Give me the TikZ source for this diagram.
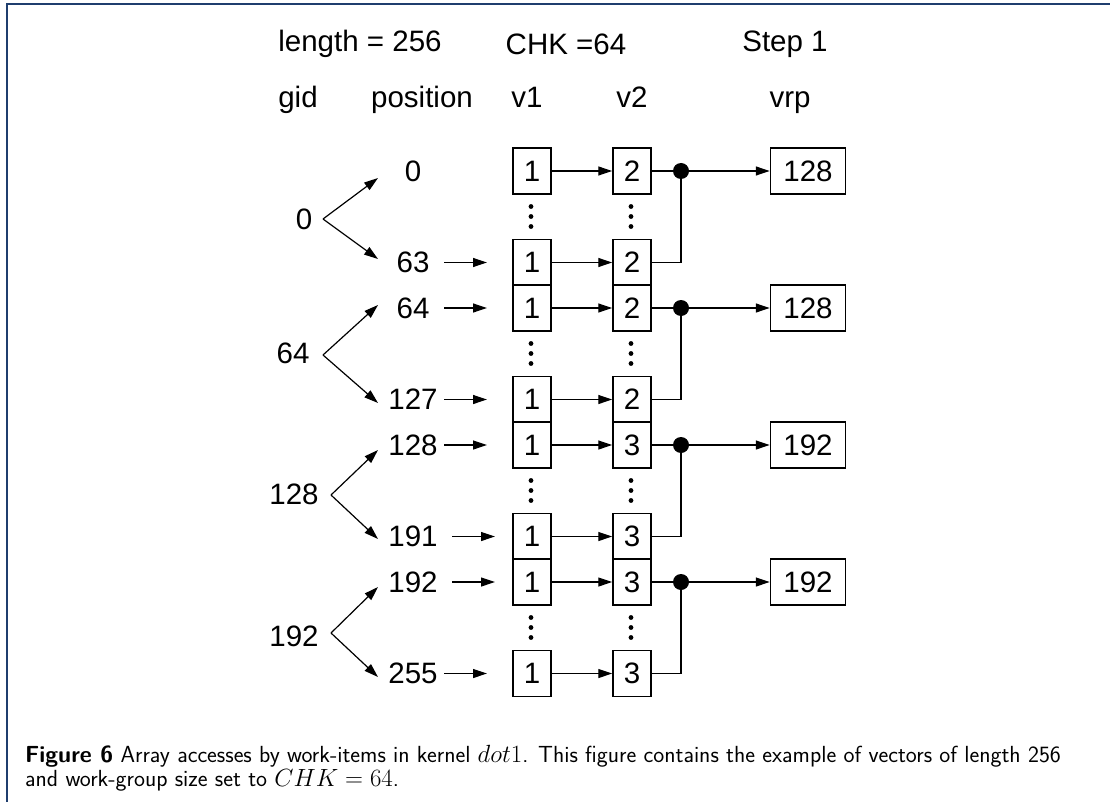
\documentclass[tikz,border=0pt]{standalone}
\usepackage{fontspec}
\setmainfont{Liberation Sans}
\usetikzlibrary{arrows.meta}
\definecolor{framecol}{HTML}{1F3E6E}
\begin{document}
\begin{tikzpicture}[x=1pt,y=-1pt,
  cell/.style={draw, line width=1.5pt, minimum width=38pt, minimum height=46pt, inner sep=0pt, font=\fontsize{29.5}{32}\selectfont},
  lab/.style={font=\fontsize{29.5}{32}\selectfont, inner sep=0pt},
  conn/.style={line width=1.2pt},
  arr/.style={conn, -{Triangle[length=14pt,width=9pt]}},
  vdot/.style={fill, circle, inner sep=0pt, minimum size=4.8pt},
]
\useasboundingbox (0,0) rectangle (1110,802);
\draw[framecol, line width=2pt] (7,802) -- (7,4) -- (1110,4);

% headers
\node[lab] (hlen) at (360,44) {length = 256};
\node[lab] (hchk) at (566,44) {CHK =64};
\node[lab] (hstep) at (785,44) {Step 1};
\node[lab, anchor=base] (hgid) at (298,108) {gid};
\node[lab, anchor=base] (hpos) at (422,108) {position};
\node[lab, anchor=base] (hv1) at (527,108) {v1};
\node[lab, anchor=base] (hv2) at (632,108) {v2};
\node[lab, anchor=base] (hvrp) at (790,108) {vrp};

\foreach \g/\va/\vr/\pa/\pb in {0/2/128/0/63, 1/2/128/64/127, 2/3/192/128/191, 3/3/192/192/255}{
  \pgfmathsetmacro\t{171+137*\g}
  \pgfmathsetmacro\b{\t+91.5}
  \pgfmathsetmacro\m{\t+45.5}
  \node[cell] (a1\g) at (532,\t) {1};
  \node[cell] (a2\g) at (532,\b) {1};
  \node[cell] (b1\g) at (632,\t) {\va};
  \node[cell] (b2\g) at (632,\b) {\va};
  \node[cell, minimum width=75pt] (r\g) at (808,\t) {\vr};
  \draw[arr] (a1\g) -- (b1\g);
  \draw[arr] (a2\g) -- (b2\g);
  \coordinate (d\g) at (681,\t);
  \draw[conn] (b1\g) -- (d\g);
  \draw[arr] (d\g) -- (r\g);
  \draw[conn] (b2\g.east) -| (d\g);
  \fill (d\g) circle (8pt);
  \node[lab] (p1\g) at (413,\t) {\pa};
  \node[lab] (p2\g) at (413,\b) {\pb};
  \foreach \xx/\n in {531/a, 631/b}{
    \node[vdot] (\n dt\g) at (\xx,\m-10) {};
    \node[vdot] (\n dm\g) at (\xx,\m) {};
    \node[vdot] (\n db\g) at (\xx,\m+10) {};
  }
}

% position arrows
\coordinate (s20) at (444,262.5); \coordinate (e20) at (487,262.5);
\coordinate (s11) at (444,308);   \coordinate (e11) at (487,308);
\coordinate (s21) at (444,399.5); \coordinate (e21) at (487,399.5);
\coordinate (s12) at (444,445);   \coordinate (e12) at (487,445);
\coordinate (s22) at (452,536.5); \coordinate (e22) at (495,536.5);
\coordinate (s13) at (452,582);   \coordinate (e13) at (495,582);
\coordinate (s23) at (444,673.5); \coordinate (e23) at (487,673.5);
\foreach \k in {20,11,21,12,22,13,23}{
  \draw[arr] (s\k) -- (e\k);
}

% gid labels and branches
\node[lab] (g0) at (304,219) {0};
\node[lab] (g1) at (293,353) {64};
\node[lab] (g2) at (294,494) {128};
\node[lab] (g3) at (294,636) {192};
\coordinate (v0) at (323,219); \coordinate (u0) at (378,178); \coordinate (w0) at (378,259);
\coordinate (v1) at (323,355); \coordinate (u1) at (378,305); \coordinate (w1) at (378,403);
\coordinate (v2) at (331,495); \coordinate (u2) at (378,450); \coordinate (w2) at (378,539);
\coordinate (v3) at (331,633); \coordinate (u3) at (378,587); \coordinate (w3) at (378,677);
\foreach \g in {0,1,2,3}{
  \draw[arr] (v\g) -- (u\g);
  \draw[arr] (v\g) -- (w\g);
}

% caption
\node[anchor=west, align=left, inner sep=0pt, font=\sffamily\fontsize{23.3}{24}\selectfont] (cap) at (25,768)
  {\textbf{Figure 6} Array accesses by work-items in kernel $dot1$. This figure contains the example of vectors of length 256\\
   and work-group size set to $CHK=64$.};
\end{tikzpicture}
\end{document}
